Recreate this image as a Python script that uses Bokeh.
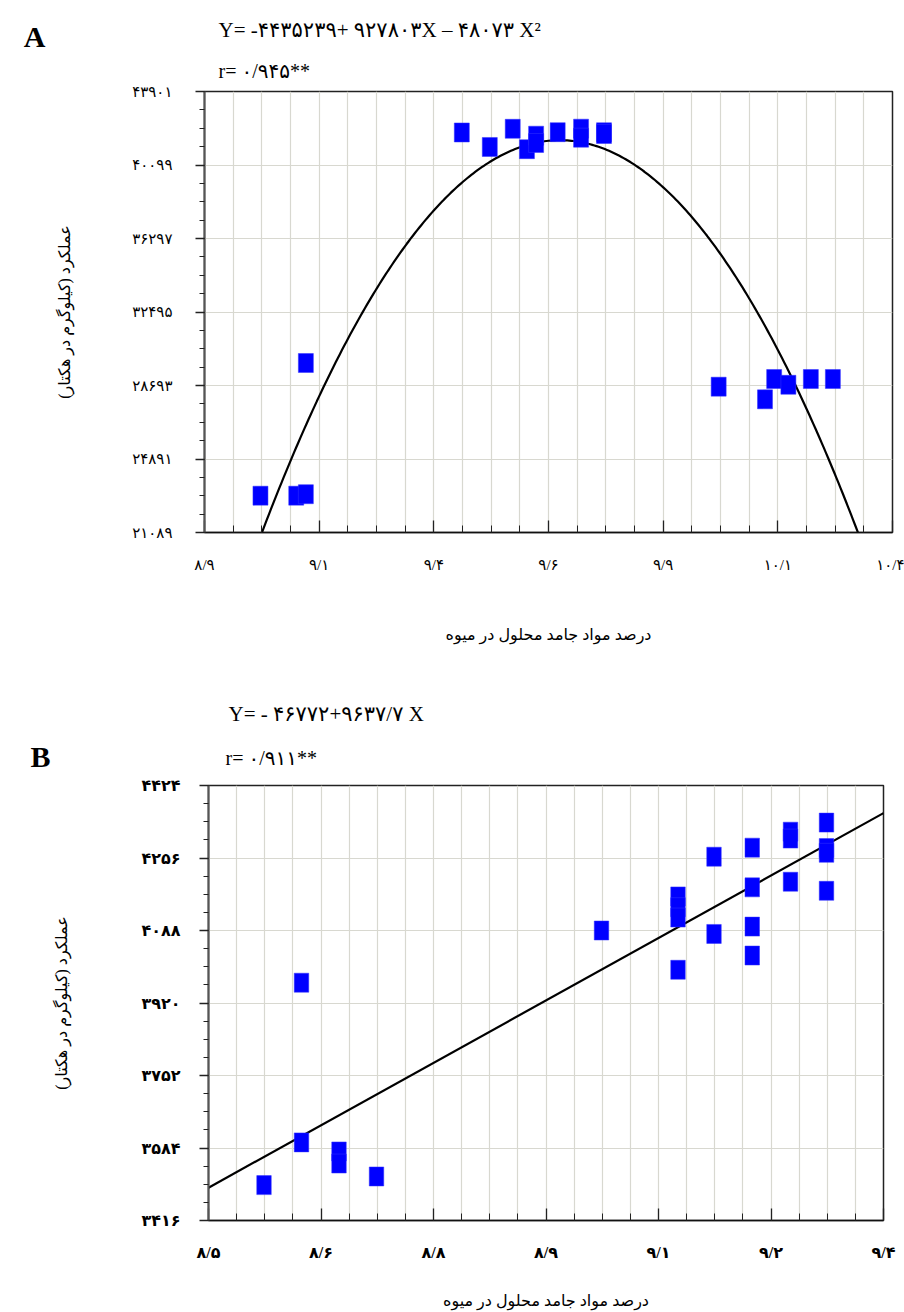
from bokeh.plotting import figure
from bokeh.models import Range1d, FixedTicker, CustomJSTickFormatter
from bokeh.core.properties import value
from bokeh.layouts import column
from bokeh.embed import file_html
from bokeh.resources import INLINE
import numpy as np

SERIF = "'Liberation Serif', 'DejaVu Sans'"
BLUE = "#0000ff"
GRID = "#d8d8d0"
W = 904

# ---------------- Panel A data ----------------
a_tss = [8.997, 9.075, 9.096, 9.096, 9.436, 9.497, 9.547, 9.578, 9.598, 9.598,
         9.645, 9.696, 9.696, 9.746, 9.746, 9.996, 10.097, 10.117, 10.148, 10.197, 10.245]
a_yield = [22993, 22993, 23070, 29857, 41781, 41031, 41972, 40917, 41615, 41238,
           41797, 41978, 41512, 41791, 41703, 28631, 27979, 29030, 28730, 29030, 29030]
a_x_labels = ["۸/۹", "۹/۱", "۹/۴", "۹/۶", "۹/۹", "۱۰/۱", "۱۰/۴"]
a_y_labels = ["۲۱۰۸۹", "۲۴۸۹۱", "۲۸۶۹۳", "۳۲۴۹۵", "۳۶۲۹۷", "۴۰۰۹۹", "۴۳۹۰۱"]
a_x_start, a_x_step = 8.875, 0.25
a_y_start, a_y_step = 21089, 3802
a_coef = [-4435239, 927803, -48073]   # Y = c0 + c1 X + c2 X^2 (equation printed on chart)
a_eq = "Y= -۴۴۳۵۲۳۹+ ۹۲۷۸۰۳X – ۴۸۰۷۳ X²"
a_r = "r= ۰/۹۴۵**"

# ---------------- Panel B data ----------------
b_tss = [8.554, 8.604, 8.604, 8.654, 8.654, 8.704, 9.004, 9.106, 9.106, 9.106, 9.106,
         9.154, 9.154, 9.205, 9.205, 9.205, 9.205, 9.256, 9.256, 9.256, 9.304, 9.304, 9.304, 9.304]
b_yield = [3498, 3597, 3967, 3576, 3548, 3518, 4088, 4167, 4142, 4118, 3997,
           4259, 4080, 4280, 4188, 4097, 4030, 4317, 4301, 4201, 4338, 4279, 4268, 4180]
b_x_labels = ["۸/۵", "۸/۶", "۸/۸", "۸/۹", "۹/۱", "۹/۲", "۹/۴"]
b_y_labels = ["۳۴۱۶", "۳۵۸۴", "۳۷۵۲", "۳۹۲۰", "۴۰۸۸", "۴۲۵۶", "۴۴۲۴"]
b_x_start, b_x_step = 8.48, 0.15
b_y_start, b_y_step = 3416, 168
b_trend_x = [8.48, 9.38]
b_trend_y = [3492, 4360]
b_eq = "Y= - ۴۶۷۷۲+۹۶۳۷/۷ X"
b_r = "r= ۰/۹۱۱**"

x_title = "درصد مواد جامد محلول در میوه"
y_title = "عملکرد (کیلوگرم در هکتار)"


def fmt(labels, start, step):
    return CustomJSTickFormatter(
        args=dict(labels=labels, start=start, step=step),
        code="""
        const i = Math.round((tick - start) / step);
        return (i >= 0 && i < labels.length) ? labels[i] : "";
        """)


def make_header(height, items):
    h = figure(width=W, height=height, output_backend="svg", toolbar_location=None,
               x_range=Range1d(0, W), y_range=Range1d(height, 0),
               x_axis_type=None, y_axis_type=None, frame_align=False,
               min_border_left=0, min_border_right=0, min_border_top=0, min_border_bottom=0)
    h.outline_line_color = None
    h.grid.visible = False
    h.background_fill_color = "white"
    h.border_fill_color = "white"
    for (tx, ty, txt, size, bold, align) in items:
        h.text(x=[tx], y=[ty], text=[txt], text_font=value(SERIF), text_font_size=size,
               text_font_style="bold" if bold else "normal", text_align=align,
               text_baseline="middle", text_color="black")
    return h


def make_panel(height, frame, xs, xstep, ys, ystep, xlab, ylab, bold,
               lab_std_x, title_std_x, lab_std_y, title_std_y, lab_size):
    left, right, top, bottom = frame
    n = len(xlab)
    x_end = xs + xstep * (n - 1)
    y_end = ys + ystep * (len(ylab) - 1)
    p = figure(width=W, height=height, output_backend="svg", toolbar_location=None,
               x_range=Range1d(xs, x_end), y_range=Range1d(ys, y_end), frame_align=False,
               min_border_left=left, min_border_right=right,
               min_border_top=top, min_border_bottom=bottom)
    p.background_fill_color = "white"
    p.border_fill_color = "white"
    p.outline_line_color = "#222222"
    p.outline_line_width = 1.5

    x_major = [xs + i * xstep for i in range(n)]
    x_minor = [xs + i * xstep / 4 for i in range(4 * (n - 1) + 1)]
    y_major = [ys + i * ystep for i in range(len(ylab))]
    y_minor = [ys + i * ystep / 4 for i in range(4 * (len(ylab) - 1) + 1)]

    p.xaxis.ticker = FixedTicker(ticks=x_major, minor_ticks=x_minor)
    p.yaxis.ticker = FixedTicker(ticks=y_major, minor_ticks=y_minor)
    p.xgrid.ticker = FixedTicker(ticks=x_minor)
    p.ygrid.ticker = FixedTicker(ticks=y_major)
    for g in (p.xgrid, p.ygrid):
        g.grid_line_color = GRID
        g.grid_line_width = 1.2

    p.xaxis.formatter = fmt(xlab, xs, xstep)
    p.yaxis.formatter = fmt(ylab, ys, ystep)

    style = "bold" if bold else "normal"
    for ax in (p.xaxis, p.yaxis):
        ax.major_label_text_font = SERIF
        ax.major_label_text_font_size = lab_size
        ax.major_label_text_font_style = style
        ax.major_label_text_color = "black"
        ax.axis_label_text_font = SERIF
        ax.axis_label_text_font_size = "16px"
        ax.axis_label_text_font_style = "normal"
        ax.axis_label_text_color = "black"
        ax.major_tick_line_color = "#222222"
        ax.minor_tick_line_color = "#222222"
        ax.major_tick_line_width = 1.3
        ax.minor_tick_line_width = 1
    p.xaxis.axis_line_color = "#111111"
    p.xaxis.axis_line_width = 1.6
    p.yaxis.axis_line_color = "#555555"
    p.yaxis.axis_line_width = 2
    p.xaxis.major_tick_in = 12
    p.xaxis.major_tick_out = 0
    p.xaxis.minor_tick_in = 7
    p.xaxis.minor_tick_out = 0
    p.yaxis.major_tick_in = 0
    p.yaxis.major_tick_out = 9
    p.yaxis.minor_tick_in = 0
    p.yaxis.minor_tick_out = 5
    p.xaxis.major_label_standoff = lab_std_x
    p.xaxis.axis_label_standoff = title_std_x
    p.yaxis.major_label_standoff = lab_std_y
    p.yaxis.axis_label_standoff = title_std_y
    p.xaxis.axis_label = x_title
    p.yaxis.axis_label = y_title
    return p


# ---------------- Panel A ----------------
HA_H = 83
headA = make_header(HA_H, [
    (34, 36, "A", "30px", True, "center"),
    (218, 29, a_eq, "21px", False, "left"),
    (218, 70, a_r, "20px", False, "left"),
])
PA_H = 562
TOPPA = HA_H
# frame in page coords: left 204, right 892, top 91, bottom 532
pA = make_panel(PA_H, (204, W - 892, 91 - TOPPA, TOPPA + PA_H - 532),
                a_x_start, a_x_step, a_y_start, a_y_step, a_x_labels, a_y_labels, False,
                24, 50, 23, 56, "15px")
cx = np.linspace(8.97, 10.33, 300)
cy = a_coef[0] + a_coef[1] * cx + a_coef[2] * cx ** 2
pA.line(cx, cy, line_color="black", line_width=2.2)
pA.rect(a_tss, a_yield, width=15, height=19, width_units="screen", height_units="screen",
        fill_color=BLUE, line_color="#3333ff", line_width=0.5)

# ---------------- Panel B ----------------
TOPB = HA_H + PA_H
HB_H = 131
headB = make_header(HB_H, [
    (40, 756 - TOPB, "B", "30px", True, "center"),
    (228, 713 - TOPB, b_eq, "21px", False, "left"),
    (225, 757 - TOPB, b_r, "20px", False, "left"),
])
TOPPB = TOPB + HB_H
PB_H = 1312 - TOPPB
# frame in page coords: left 208, right 883, top 785, bottom 1220
pB = make_panel(PB_H, (208, W - 883, 785 - TOPPB, TOPPB + PB_H - 1220),
                b_x_start, b_x_step, b_y_start, b_y_step, b_x_labels, b_y_labels, True,
                23, 28, 19, 68, "16px")
pB.line(b_trend_x, b_trend_y, line_color="black", line_width=2.2)
pB.rect(b_tss, b_yield, width=14.5, height=19, width_units="screen", height_units="screen",
        fill_color=BLUE, line_color="#3333ff", line_width=0.5)

layout = column(headA, pA, headB, pB, spacing=0)
open("out.html", "w").write(file_html(layout, INLINE))
